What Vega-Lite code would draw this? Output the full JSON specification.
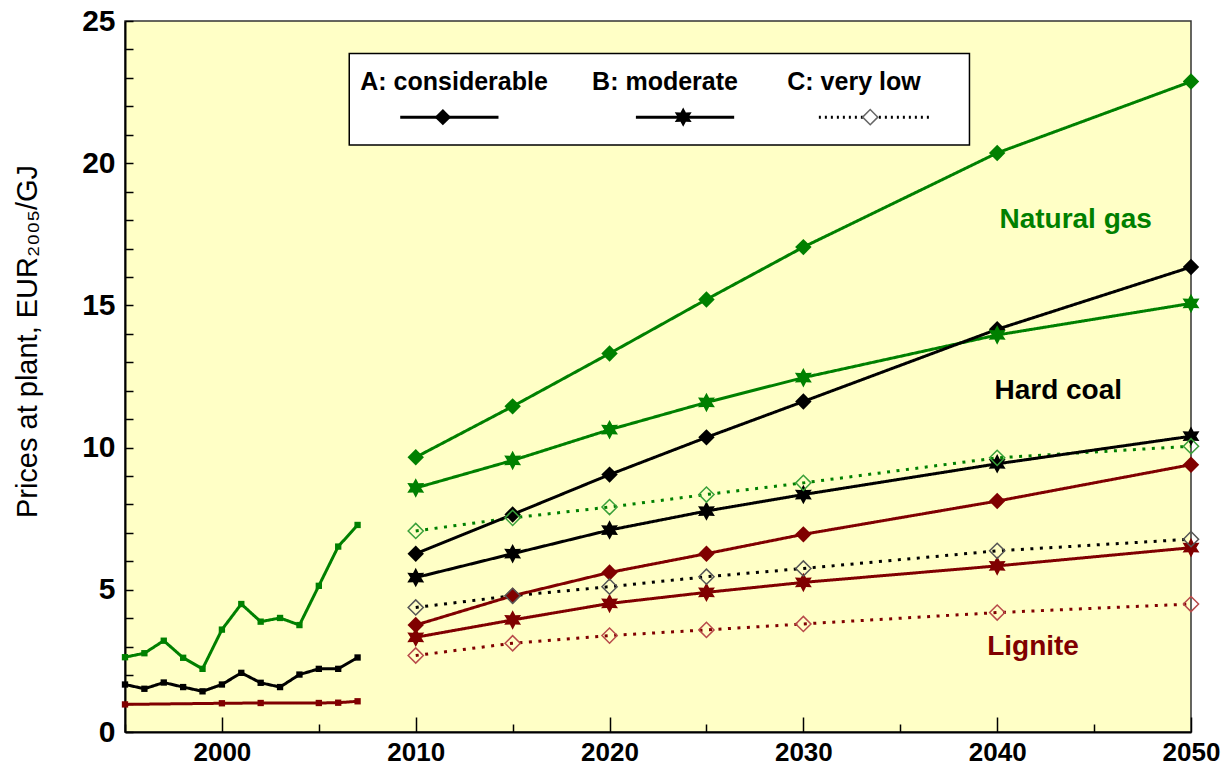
{
  "$schema": "https://vega.github.io/schema/vega-lite/v6.json",
  "width": 1066,
  "height": 711,
  "autosize": {"type": "none"},
  "padding": {"left": 125, "top": 21, "right": 33, "bottom": 43},
  "background": "white",
  "config": {
    "view": {"fill": "#FFFFC6", "stroke": "#333333", "strokeWidth": 1.5},
    "font": "Liberation Sans",
    "axisX": {
      "tickCount": 40,
      "format": "d",
      "grid": false,
      "domainColor": "#000000", "domainWidth": 2,
      "tickColor": "#000000", "tickWidth": 1.5,
      "tickSize": {"condition": {"test": "datum.value % 10 === 0", "value": -15}, "value": -8},
      "labelFont": "Liberation Sans", "labelFontWeight": "bold", "labelFontSize": 26,
      "labelColor": "#000000", "labelPadding": 22, "labelOverlap": false, "labelFlush": false
    },
    "axisY": {
      "tickCount": 40,
      "format": "d",
      "titleFont": "Liberation Sans", "titleFontSize": 29, "titleFontWeight": "normal", "titleColor": "#000000",
      "titleX": -83, "titleY": 320, "titleAngle": -90, "titleBaseline": "bottom", "titleAlign": "center",
      "grid": true,
      "gridColor": "#8a8a80", "gridWidth": 1,
      "gridOpacity": {"condition": {"test": "datum.value % 5 === 0 && datum.value > 0 && datum.value < 25", "value": 1}, "value": 0},
      "domainColor": "#000000", "domainWidth": 2,
      "tickColor": "#000000", "tickWidth": 1.5, "tickSize": -8,
      "labelFont": "Liberation Sans", "labelFontWeight": "bold", "labelFontSize": 30,
      "labelColor": "#000000", "labelPadding": 18, "labelOverlap": false, "labelFlush": false
    }
  },
  "data": {
    "values": [
      {"fuel": "Natural gas", "scenario": "Historical", "year": 1995, "price": 2.63},
      {"fuel": "Natural gas", "scenario": "Historical", "year": 1996, "price": 2.77},
      {"fuel": "Natural gas", "scenario": "Historical", "year": 1997, "price": 3.21},
      {"fuel": "Natural gas", "scenario": "Historical", "year": 1998, "price": 2.61},
      {"fuel": "Natural gas", "scenario": "Historical", "year": 1999, "price": 2.22},
      {"fuel": "Natural gas", "scenario": "Historical", "year": 2000, "price": 3.6},
      {"fuel": "Natural gas", "scenario": "Historical", "year": 2001, "price": 4.5},
      {"fuel": "Natural gas", "scenario": "Historical", "year": 2002, "price": 3.88},
      {"fuel": "Natural gas", "scenario": "Historical", "year": 2003, "price": 4.01},
      {"fuel": "Natural gas", "scenario": "Historical", "year": 2004, "price": 3.76},
      {"fuel": "Natural gas", "scenario": "Historical", "year": 2005, "price": 5.14},
      {"fuel": "Natural gas", "scenario": "Historical", "year": 2006, "price": 6.52},
      {"fuel": "Natural gas", "scenario": "Historical", "year": 2007, "price": 7.28},
      {"fuel": "Hard coal", "scenario": "Historical", "year": 1995, "price": 1.67},
      {"fuel": "Hard coal", "scenario": "Historical", "year": 1996, "price": 1.52},
      {"fuel": "Hard coal", "scenario": "Historical", "year": 1997, "price": 1.74},
      {"fuel": "Hard coal", "scenario": "Historical", "year": 1998, "price": 1.58},
      {"fuel": "Hard coal", "scenario": "Historical", "year": 1999, "price": 1.43},
      {"fuel": "Hard coal", "scenario": "Historical", "year": 2000, "price": 1.67},
      {"fuel": "Hard coal", "scenario": "Historical", "year": 2001, "price": 2.08},
      {"fuel": "Hard coal", "scenario": "Historical", "year": 2002, "price": 1.73},
      {"fuel": "Hard coal", "scenario": "Historical", "year": 2003, "price": 1.58},
      {"fuel": "Hard coal", "scenario": "Historical", "year": 2004, "price": 2.02},
      {"fuel": "Hard coal", "scenario": "Historical", "year": 2005, "price": 2.22},
      {"fuel": "Hard coal", "scenario": "Historical", "year": 2006, "price": 2.22},
      {"fuel": "Hard coal", "scenario": "Historical", "year": 2007, "price": 2.62},
      {"fuel": "Lignite", "scenario": "Historical", "year": 1995, "price": 0.97},
      {"fuel": "Lignite", "scenario": "Historical", "year": 2000, "price": 1.01},
      {"fuel": "Lignite", "scenario": "Historical", "year": 2002, "price": 1.02},
      {"fuel": "Lignite", "scenario": "Historical", "year": 2005, "price": 1.02},
      {"fuel": "Lignite", "scenario": "Historical", "year": 2006, "price": 1.03},
      {"fuel": "Lignite", "scenario": "Historical", "year": 2007, "price": 1.08},
      {"fuel": "Natural gas", "scenario": "A: considerable", "year": 2010, "price": 9.66},
      {"fuel": "Natural gas", "scenario": "A: considerable", "year": 2015, "price": 11.45},
      {"fuel": "Natural gas", "scenario": "A: considerable", "year": 2020, "price": 13.31},
      {"fuel": "Natural gas", "scenario": "A: considerable", "year": 2025, "price": 15.21},
      {"fuel": "Natural gas", "scenario": "A: considerable", "year": 2030, "price": 17.05},
      {"fuel": "Natural gas", "scenario": "A: considerable", "year": 2040, "price": 20.36},
      {"fuel": "Natural gas", "scenario": "A: considerable", "year": 2050, "price": 22.87},
      {"fuel": "Natural gas", "scenario": "B: moderate", "year": 2010, "price": 8.58},
      {"fuel": "Natural gas", "scenario": "B: moderate", "year": 2015, "price": 9.55},
      {"fuel": "Natural gas", "scenario": "B: moderate", "year": 2020, "price": 10.63},
      {"fuel": "Natural gas", "scenario": "B: moderate", "year": 2025, "price": 11.59},
      {"fuel": "Natural gas", "scenario": "B: moderate", "year": 2030, "price": 12.46},
      {"fuel": "Natural gas", "scenario": "B: moderate", "year": 2040, "price": 13.96},
      {"fuel": "Natural gas", "scenario": "B: moderate", "year": 2050, "price": 15.07},
      {"fuel": "Natural gas", "scenario": "C: very low", "year": 2010, "price": 7.07},
      {"fuel": "Natural gas", "scenario": "C: very low", "year": 2015, "price": 7.53},
      {"fuel": "Natural gas", "scenario": "C: very low", "year": 2020, "price": 7.91},
      {"fuel": "Natural gas", "scenario": "C: very low", "year": 2025, "price": 8.35},
      {"fuel": "Natural gas", "scenario": "C: very low", "year": 2030, "price": 8.76},
      {"fuel": "Natural gas", "scenario": "C: very low", "year": 2040, "price": 9.64},
      {"fuel": "Natural gas", "scenario": "C: very low", "year": 2050, "price": 10.05},
      {"fuel": "Hard coal", "scenario": "A: considerable", "year": 2010, "price": 6.27},
      {"fuel": "Hard coal", "scenario": "A: considerable", "year": 2015, "price": 7.65},
      {"fuel": "Hard coal", "scenario": "A: considerable", "year": 2020, "price": 9.05},
      {"fuel": "Hard coal", "scenario": "A: considerable", "year": 2025, "price": 10.36},
      {"fuel": "Hard coal", "scenario": "A: considerable", "year": 2030, "price": 11.62},
      {"fuel": "Hard coal", "scenario": "A: considerable", "year": 2040, "price": 14.16},
      {"fuel": "Hard coal", "scenario": "A: considerable", "year": 2050, "price": 16.35},
      {"fuel": "Hard coal", "scenario": "B: moderate", "year": 2010, "price": 5.43},
      {"fuel": "Hard coal", "scenario": "B: moderate", "year": 2015, "price": 6.27},
      {"fuel": "Hard coal", "scenario": "B: moderate", "year": 2020, "price": 7.1},
      {"fuel": "Hard coal", "scenario": "B: moderate", "year": 2025, "price": 7.77},
      {"fuel": "Hard coal", "scenario": "B: moderate", "year": 2030, "price": 8.35},
      {"fuel": "Hard coal", "scenario": "B: moderate", "year": 2040, "price": 9.43},
      {"fuel": "Hard coal", "scenario": "B: moderate", "year": 2050, "price": 10.4},
      {"fuel": "Hard coal", "scenario": "C: very low", "year": 2010, "price": 4.38},
      {"fuel": "Hard coal", "scenario": "C: very low", "year": 2015, "price": 4.79},
      {"fuel": "Hard coal", "scenario": "C: very low", "year": 2020, "price": 5.11},
      {"fuel": "Hard coal", "scenario": "C: very low", "year": 2025, "price": 5.46},
      {"fuel": "Hard coal", "scenario": "C: very low", "year": 2030, "price": 5.75},
      {"fuel": "Hard coal", "scenario": "C: very low", "year": 2040, "price": 6.37},
      {"fuel": "Hard coal", "scenario": "C: very low", "year": 2050, "price": 6.78},
      {"fuel": "Lignite", "scenario": "A: considerable", "year": 2010, "price": 3.76},
      {"fuel": "Lignite", "scenario": "A: considerable", "year": 2015, "price": 4.79},
      {"fuel": "Lignite", "scenario": "A: considerable", "year": 2020, "price": 5.61},
      {"fuel": "Lignite", "scenario": "A: considerable", "year": 2025, "price": 6.27},
      {"fuel": "Lignite", "scenario": "A: considerable", "year": 2030, "price": 6.95},
      {"fuel": "Lignite", "scenario": "A: considerable", "year": 2040, "price": 8.12},
      {"fuel": "Lignite", "scenario": "A: considerable", "year": 2050, "price": 9.4},
      {"fuel": "Lignite", "scenario": "B: moderate", "year": 2010, "price": 3.33},
      {"fuel": "Lignite", "scenario": "B: moderate", "year": 2015, "price": 3.94},
      {"fuel": "Lignite", "scenario": "B: moderate", "year": 2020, "price": 4.52},
      {"fuel": "Lignite", "scenario": "B: moderate", "year": 2025, "price": 4.91},
      {"fuel": "Lignite", "scenario": "B: moderate", "year": 2030, "price": 5.26},
      {"fuel": "Lignite", "scenario": "B: moderate", "year": 2040, "price": 5.84},
      {"fuel": "Lignite", "scenario": "B: moderate", "year": 2050, "price": 6.48},
      {"fuel": "Lignite", "scenario": "C: very low", "year": 2010, "price": 2.69},
      {"fuel": "Lignite", "scenario": "C: very low", "year": 2015, "price": 3.12},
      {"fuel": "Lignite", "scenario": "C: very low", "year": 2020, "price": 3.39},
      {"fuel": "Lignite", "scenario": "C: very low", "year": 2025, "price": 3.59},
      {"fuel": "Lignite", "scenario": "C: very low", "year": 2030, "price": 3.8},
      {"fuel": "Lignite", "scenario": "C: very low", "year": 2040, "price": 4.2},
      {"fuel": "Lignite", "scenario": "C: very low", "year": 2050, "price": 4.5}
    ]
  },
  "layer": [
    {
      "encoding": {
        "x": {
          "field": "year", "type": "quantitative",
          "scale": {"domain": [1995, 2050], "nice": false, "zero": false},
          "axis": {
            "title": null,
            "values": [1995, 2000, 2005, 2010, 2015, 2020, 2025, 2030, 2035, 2040, 2045, 2050],
            "labelExpr": "datum.value % 10 === 0 ? datum.label : ''"
          }
        },
        "y": {
          "field": "price", "type": "quantitative",
          "scale": {"domain": [0, 25], "nice": false},
          "axis": {
            "title": "Prices at plant, EUR₂₀₀₅/GJ",
            "values": [0, 1, 2, 3, 4, 5, 6, 7, 8, 9, 10, 11, 12, 13, 14, 15, 16, 17, 18, 19, 20, 21, 22, 23, 24, 25],
            "labelExpr": "datum.value % 5 === 0 ? datum.label : ''"
          }
        }
      },
      "layer": [
        {
          "mark": {"type": "line", "strokeWidth": 3},
          "encoding": {
            "color": {"field": "fuel", "type": "nominal", "scale": {"domain": ["Natural gas", "Hard coal", "Lignite"], "range": ["#008000", "#000000", "#800000"]}, "legend": null},
            "strokeDash": {"field": "scenario", "type": "nominal", "scale": {"domain": ["Historical", "A: considerable", "B: moderate", "C: very low"], "range": [[1, 0], [1, 0], [1, 0], [3, 6.5]]}, "legend": null},
            "detail": {"field": "scenario"}
          }
        },
        {
          "transform": [{"filter": "datum.scenario === 'Historical'"}],
          "mark": {"type": "point", "shape": "square", "filled": true, "size": 40, "opacity": 1},
          "encoding": {"color": {"field": "fuel", "type": "nominal", "legend": null}}
        },
        {
          "transform": [{"filter": "datum.scenario === 'A: considerable'"}],
          "mark": {"type": "point", "shape": "diamond", "filled": true, "size": 270, "opacity": 1},
          "encoding": {"color": {"field": "fuel", "type": "nominal", "legend": null}}
        },
        {
          "transform": [{"filter": "datum.scenario === 'B: moderate'"}],
          "mark": {"type": "point", "shape": "M0,-1L0.275,-0.476L0.866,-0.5L0.55,0L0.866,0.5L0.275,0.476L0,1L-0.275,0.476L-0.866,0.5L-0.55,0L-0.866,-0.5L-0.275,-0.476Z", "filled": true, "size": 380, "opacity": 1},
          "encoding": {"color": {"field": "fuel", "type": "nominal", "legend": null}}
        },
        {
          "transform": [{"filter": "datum.scenario === 'C: very low'"}],
          "mark": {"type": "point", "shape": "diamond", "filled": false, "size": 230, "strokeWidth": 1.5, "opacity": 1},
          "encoding": {"stroke": {"field": "fuel", "type": "nominal", "scale": {"domain": ["Natural gas", "Hard coal", "Lignite"], "range": ["#3aa03a", "#555555", "#b84a4a"]}, "legend": null}}
        }
      ]
    },
    {
      "data": {"values": [{}]},
      "mark": {"type": "text", "text": "Natural gas", "font": "Liberation Sans", "fontWeight": "bold", "fontSize": 28, "color": "#008000", "align": "center", "baseline": "middle"},
      "encoding": {"x": {"datum": 2044.05, "type": "quantitative"}, "y": {"datum": 18.0, "type": "quantitative"}}
    },
    {
      "data": {"values": [{}]},
      "mark": {"type": "text", "text": "Hard coal", "font": "Liberation Sans", "fontWeight": "bold", "fontSize": 28, "color": "#000000", "align": "center", "baseline": "middle"},
      "encoding": {"x": {"datum": 2043.15, "type": "quantitative"}, "y": {"datum": 12.0, "type": "quantitative"}}
    },
    {
      "data": {"values": [{}]},
      "mark": {"type": "text", "text": "Lignite", "font": "Liberation Sans", "fontWeight": "bold", "fontSize": 28, "color": "#800000", "align": "center", "baseline": "middle"},
      "encoding": {"x": {"datum": 2041.85, "type": "quantitative"}, "y": {"datum": 2.98, "type": "quantitative"}}
    },
    {
      "data": {"values": [{}]},
      "mark": {"type": "rect", "fill": "#ffffff", "stroke": "#000000", "strokeWidth": 1.5},
      "encoding": {"x": {"datum": 2006.57, "type": "quantitative"}, "x2": {"datum": 2038.57}, "y": {"datum": 23.86, "type": "quantitative"}, "y2": {"datum": 20.64}}
    },
    {
      "data": {"values": [{}]},
      "mark": {"type": "text", "text": "A: considerable", "font": "Liberation Sans", "fontWeight": "bold", "fontSize": 25, "color": "#000000", "align": "left", "baseline": "middle"},
      "encoding": {"x": {"datum": 2007.14, "type": "quantitative"}, "y": {"datum": 22.87, "type": "quantitative"}}
    },
    {
      "data": {"values": [{}]},
      "mark": {"type": "text", "text": "B: moderate", "font": "Liberation Sans", "fontWeight": "bold", "fontSize": 25, "color": "#000000", "align": "left", "baseline": "middle"},
      "encoding": {"x": {"datum": 2019.1, "type": "quantitative"}, "y": {"datum": 22.87, "type": "quantitative"}}
    },
    {
      "data": {"values": [{}]},
      "mark": {"type": "text", "text": "C: very low", "font": "Liberation Sans", "fontWeight": "bold", "fontSize": 25, "color": "#000000", "align": "left", "baseline": "middle"},
      "encoding": {"x": {"datum": 2029.17, "type": "quantitative"}, "y": {"datum": 22.87, "type": "quantitative"}}
    },
    {
      "data": {"values": [{}]},
      "mark": {"type": "rule", "color": "#000000", "strokeWidth": 3},
      "encoding": {"x": {"datum": 2009.2, "type": "quantitative"}, "x2": {"datum": 2014.27}, "y": {"datum": 21.62, "type": "quantitative"}}
    },
    {
      "data": {"values": [{}]},
      "mark": {"type": "rule", "color": "#000000", "strokeWidth": 3},
      "encoding": {"x": {"datum": 2021.36, "type": "quantitative"}, "x2": {"datum": 2026.43}, "y": {"datum": 21.62, "type": "quantitative"}}
    },
    {
      "data": {"values": [{}]},
      "mark": {"type": "rule", "color": "#000000", "strokeWidth": 3, "strokeDash": [2, 4]},
      "encoding": {"x": {"datum": 2030.8, "type": "quantitative"}, "x2": {"datum": 2036.55}, "y": {"datum": 21.62, "type": "quantitative"}}
    },
    {
      "data": {"values": [{}]},
      "mark": {"type": "point", "shape": "diamond", "filled": true, "size": 270, "color": "#000000", "opacity": 1},
      "encoding": {"x": {"datum": 2011.4, "type": "quantitative"}, "y": {"datum": 21.62, "type": "quantitative"}}
    },
    {
      "data": {"values": [{}]},
      "mark": {"type": "point", "shape": "M0,-1L0.275,-0.476L0.866,-0.5L0.55,0L0.866,0.5L0.275,0.476L0,1L-0.275,0.476L-0.866,0.5L-0.55,0L-0.866,-0.5L-0.275,-0.476Z", "filled": true, "size": 380, "color": "#000000", "opacity": 1},
      "encoding": {"x": {"datum": 2023.8, "type": "quantitative"}, "y": {"datum": 21.62, "type": "quantitative"}}
    },
    {
      "data": {"values": [{}]},
      "mark": {"type": "point", "shape": "diamond", "filled": true, "size": 230, "fill": "#ffffff", "stroke": "#666666", "strokeWidth": 1.5, "opacity": 1},
      "encoding": {"x": {"datum": 2033.45, "type": "quantitative"}, "y": {"datum": 21.62, "type": "quantitative"}}
    }
  ]
}
